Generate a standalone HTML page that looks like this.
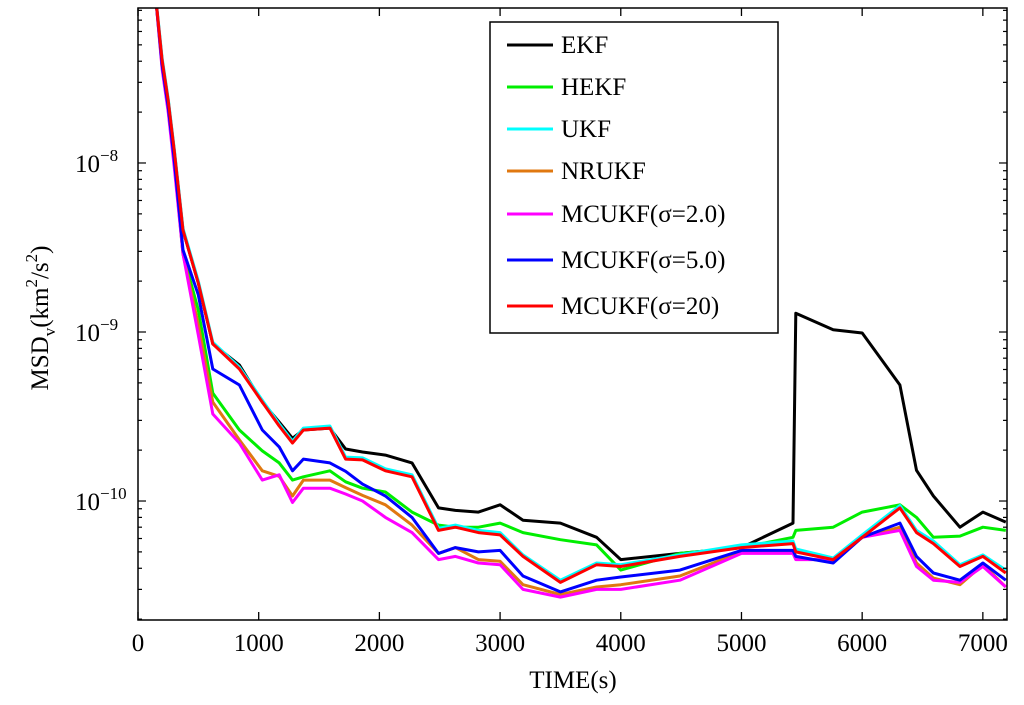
<!DOCTYPE html>
<html><head><meta charset="utf-8"><style>
html,body{margin:0;padding:0;background:#fff;}
svg{display:block;font-family:"Liberation Serif",serif;}
</style></head><body>
<svg id="chart" width="1024" height="705" viewBox="0 0 1024 705" xmlns="http://www.w3.org/2000/svg"></svg>
<script>
// time samples (s)
const times = [150,200,250,300,373,500,620,840,1030,1170,1280,1370,1590,1720,1860,2050,2270,2490,2630,2820,3000,3190,3500,3800,4000,4490,5000,5427,5450,5760,6000,6313,6450,6590,6810,7000,7190];
// values in units of 1e-10 km^2/s^2
const ekf = [900,407,234,119,40,19.5,8.5,6.38,3.85,2.93,2.35,2.63,2.7,2.03,1.95,1.87,1.68,0.91,0.88,0.86,0.95,0.77,0.74,0.61,0.45,0.49,0.53,0.74,12.9,10.3,9.87,4.86,1.52,1.07,0.70,0.86,0.75];
const hekf = [900,380,215,105,29,13.5,4.35,2.63,1.98,1.68,1.33,1.39,1.51,1.3,1.19,1.13,0.86,0.72,0.70,0.70,0.74,0.65,0.59,0.55,0.39,0.49,0.53,0.61,0.67,0.70,0.86,0.95,0.80,0.61,0.62,0.70,0.67];
const ukf = [920,418,240,122,41,20,8.7,6.2,3.95,2.86,2.26,2.7,2.78,1.82,1.8,1.55,1.43,0.69,0.72,0.67,0.65,0.48,0.34,0.43,0.42,0.48,0.55,0.58,0.52,0.46,0.63,0.94,0.67,0.58,0.42,0.48,0.39];
const nrukf = [900,370,205,100,29,11,3.85,2.3,1.51,1.4,1.07,1.33,1.33,1.2,1.08,0.95,0.72,0.49,0.53,0.45,0.44,0.32,0.28,0.31,0.32,0.36,0.50,0.50,0.46,0.44,0.61,0.70,0.43,0.35,0.32,0.42,0.31];
const mc2 = [900,360,200,95,29,9.6,3.27,2.2,1.33,1.43,0.98,1.19,1.19,1.1,1.0,0.80,0.65,0.45,0.47,0.43,0.42,0.30,0.27,0.30,0.30,0.34,0.49,0.49,0.45,0.45,0.61,0.67,0.41,0.34,0.33,0.41,0.31];
const mc5 = [900,380,215,105,30.6,16.6,6.04,4.86,2.63,2.09,1.51,1.77,1.68,1.5,1.26,1.07,0.80,0.49,0.53,0.50,0.51,0.36,0.29,0.34,0.355,0.39,0.51,0.51,0.47,0.43,0.61,0.74,0.47,0.375,0.34,0.43,0.34];
const mc20 = [900,407,234,119,40,19.5,8.5,6.04,3.85,2.78,2.2,2.63,2.7,1.77,1.75,1.51,1.39,0.67,0.70,0.65,0.63,0.47,0.33,0.42,0.41,0.47,0.53,0.56,0.50,0.45,0.61,0.91,0.65,0.56,0.41,0.47,0.375];
const xTicks = [0,1000,2000,3000,4000,5000,6000,7000];
const yDecades = [-8,-9,-10];
const legendLabels = ["EKF","HEKF","UKF","NRUKF","MCUKF(σ=2.0)","MCUKF(σ=5.0)","MCUKF(σ=20)"];

const NS="http://www.w3.org/2000/svg";
const svg=document.getElementById('chart');
const L=138,R=1007,T=8,B=620;
const XMAX=7200, LOGMIN=-10.704, LOGMAX=-7.083;
function xs(t){return L+(t/XMAX)*(R-L);}
function ys(v){const lg=Math.log10(v*1e-10);return B-(lg-LOGMIN)/(LOGMAX-LOGMIN)*(B-T);}
function ysLog(lg){return B-(lg-LOGMIN)/(LOGMAX-LOGMIN)*(B-T);}
function mk(tag,attrs,parent){const e=document.createElementNS(NS,tag);for(const k in attrs)e.setAttribute(k,attrs[k]);(parent||svg).appendChild(e);return e;}

const defs=mk('defs',{});
const cp=mk('clipPath',{id:'clip'},defs);
mk('rect',{x:L,y:T,width:R-L,height:B-T},cp);

const series=[
 {n:'ekf',d:ekf,c:'#000000'},
 {n:'hekf',d:hekf,c:'#00ee00'},
 {n:'ukf',d:ukf,c:'#00ffff'},
 {n:'nrukf',d:nrukf,c:'#e07810'},
 {n:'mcukf-2',d:mc2,c:'#ff00ff'},
 {n:'mcukf-5',d:mc5,c:'#0000ff'},
 {n:'mcukf-20',d:mc20,c:'#ff0000'}
];
const g=mk('g',{'clip-path':'url(#clip)'});


series.forEach(s=>{
  const pts=times.map((t,i)=>xs(t).toFixed(1)+','+ys(s.d[i]).toFixed(1)).join(' ');
  const p=mk('polyline',{points:pts,fill:'none',stroke:s.c,'stroke-width':3,'stroke-linejoin':'round'},g);
  
  
});

const fr=mk('rect',{x:L,y:T,width:R-L,height:B-T,fill:'none',stroke:'#000','stroke-width':1.5});



xTicks.forEach(t=>{
  const x=xs(t);
  mk('line',{x1:x,y1:B,x2:x,y2:B-8,stroke:'#000','stroke-width':1.3});
  mk('line',{x1:x,y1:T,x2:x,y2:T+8,stroke:'#000','stroke-width':1.3});
  const tx=mk('text',{x:x,y:B+31,'text-anchor':'middle','font-size':25});
  tx.textContent=t;
  
  
});
for(let d=-11;d<=-8;d++){
  for(let m=1;m<10;m++){
    const lg=d+Math.log10(m);
    if(lg<LOGMIN||lg>LOGMAX)continue;
    const y=ysLog(lg), len=m===1?8:4;
    mk('line',{x1:L,y1:y,x2:L+len,y2:y,stroke:'#000','stroke-width':1.2});
    mk('line',{x1:R,y1:y,x2:R-len,y2:y,stroke:'#000','stroke-width':1.2});
  }
}
yDecades.forEach(d=>{
  const y=ysLog(d);
  const tx=mk('text',{x:75,y:y+9,'font-size':25});
  
  
  tx.appendChild(document.createTextNode('10'));
  const sp=mk('tspan',{dy:-11,'font-size':17},tx);
  sp.textContent=String(d).replace('-','\u2212');
});

const xt=mk('text',{x:573,y:688,'text-anchor':'middle','font-size':25});
xt.textContent='TIME(s)';


const yt=mk('text',{x:0,y:0,'text-anchor':'middle','font-size':25,transform:'translate(48,318) rotate(-90)'});


yt.appendChild(document.createTextNode('MSD'));
let s1=mk('tspan',{dy:7,'font-size':17},yt);s1.textContent='v';
let s2=mk('tspan',{dy:-7},yt);s2.textContent='(km';
let s3=mk('tspan',{dy:-11,'font-size':17},yt);s3.textContent='2';
let s4=mk('tspan',{dy:11},yt);s4.textContent='/s';
let s5=mk('tspan',{dy:-11,'font-size':17},yt);s5.textContent='2';
let s6=mk('tspan',{dy:11},yt);s6.textContent=')';

const lg=mk('g',{});


mk('rect',{x:490,y:22,width:288,height:311,fill:'#fff',stroke:'#000','stroke-width':1.5},lg);
const legY=[45,87,129,171,214,260,306];
series.forEach((s,i)=>{
  const e=mk('g',{},lg);
  
  
  mk('line',{x1:507,y1:legY[i],x2:553,y2:legY[i],stroke:s.c,'stroke-width':3},e);
  const t=mk('text',{x:561,y:legY[i]+8,'font-size':25},e);
  t.textContent=legendLabels[i];
});
</script>
</body></html>
